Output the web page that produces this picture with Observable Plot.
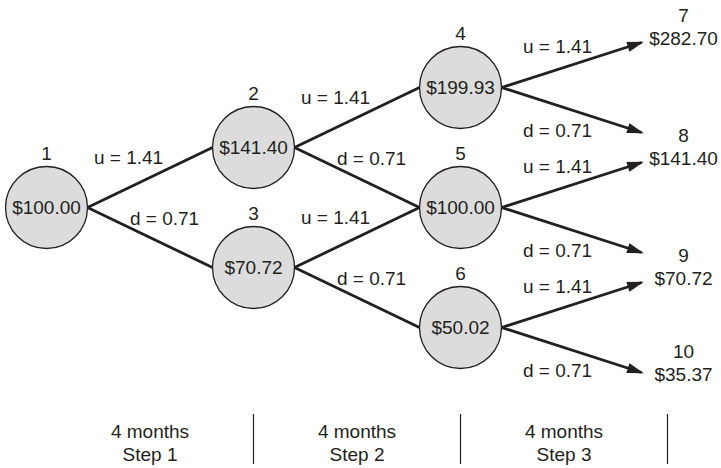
<!DOCTYPE html>
<html>
<head>
<meta charset="utf-8">
<script src="https://cdn.jsdelivr.net/npm/d3@7"></script>
<script src="https://cdn.jsdelivr.net/npm/@observablehq/plot@0.6"></script>
<style>
  html, body { margin: 0; padding: 0; background: #ffffff; }
  #chart svg { display: block; }
</style>
</head>
<body>
<div id="chart"></div>
<script>
// ---------------- data ----------------
const nodeIds    = [1, 2, 3, 4, 5, 6];
const nodeStep   = [0, 1, 1, 2, 2, 2];
const nodeLevel  = [0, 1, -1, 2, 0, -2];      // (#up moves − #down moves)
const nodePrice  = [100.00, 141.40, 70.72, 199.93, 100.00, 50.02];

const termIds    = [7, 8, 9, 10];
const termStep   = [3, 3, 3, 3];
const termLevel  = [3, 1, -1, -3];
const termPrice  = [282.70, 141.40, 70.72, 35.37];

const upFactor   = 1.41;
const downFactor = 0.71;

const periodMonths = [4, 4, 4];
const periodNames  = ["Step 1", "Step 2", "Step 3"];

// ---------------- layout ----------------
const W = 721, H = 468;
const X0 = 46, PX = 207;   // pixel of step 0, pixels per step
const Y0 = 207, PY = 60;   // pixel of level 0, pixels per level
const R = 41;              // node radius (px)
const ink = "#231f20";
const fmt = d3.format("$.2f");

const nodes = nodeIds.map((id, i) => ({id, step: nodeStep[i], level: nodeLevel[i], price: nodePrice[i]}));
const terms = termIds.map((id, i) => ({id, step: termStep[i], level: termLevel[i], price: termPrice[i],
  shift: id === 10 ? 24 / PY : 0}));
const all = nodes.concat(terms);
const find = (s, l) => all.find(n => n.step === s && n.level === l);

const innerEdges = [], termEdges = [];
for (const n of nodes) {
  for (const [kind, dl, f] of [["u", 1, upFactor], ["d", -1, downFactor]]) {
    const t = find(n.step + 1, n.level + dl);
    const e = {from: n, to: t, kind, factor: f};
    if (t.id > 6) termEdges.push(e); else innerEdges.push(e);
  }
}

const labelText = e => `${e.kind} = ${e.factor.toFixed(2)}`;

// custom filled arrowhead marker
function headMarker(color) {
  return d3.create("svg:marker")
    .attr("viewBox", "0 0 10 6")
    .attr("markerWidth", 6)
    .attr("markerHeight", 3.6)
    .attr("refX", 8.5)
    .attr("refY", 3)
    .attr("orient", "auto")
    .attr("overflow", "visible")
    .call(m => m.append("path").attr("d", "M0,0L10,3L0,6Z").attr("fill", color).attr("stroke", "none"))
    .node();
}

function build(marker) {
  return Plot.plot({
    width: W,
    height: H,
    margin: 0,
    x: {domain: [-X0 / PX, (W - X0) / PX], range: [0, W], axis: null},
    y: {domain: [-(H - Y0) / PY, Y0 / PY], range: [H, 0], axis: null},
    style: {fontFamily: "'Liberation Sans', Arial, Helvetica, sans-serif", fontSize: "19px", background: "#fff", color: ink},
    marks: [
      // lattice edges (from right extreme of one circle to left extreme of the next)
      Plot.link(innerEdges, {
        x1: e => e.from.step + R / PX, y1: e => e.from.level,
        x2: e => e.to.step - R / PX,   y2: e => e.to.level,
        stroke: ink, strokeWidth: 2.8
      }),
      // terminal arrows
      Plot.link(termEdges, {
        x1: e => e.from.step + R / PX, y1: e => e.from.level,
        x2: e => e.to.step - 26 / PX,
        y2: e => e.to.level + Math.sign(e.from.level - e.to.level) * 15 / PY,
        stroke: ink, strokeWidth: 2.8, markerEnd: marker
      }),
      // nodes
      Plot.dot(nodes, {x: "step", y: "level", r: R, fill: "#dcdcdd", stroke: ink, strokeWidth: 1.3}),
      Plot.text(nodes, {x: "step", y: "level", text: d => fmt(d.price), fill: ink, fontSize: 19}),
      Plot.text(nodes, {x: "step", y: "level", text: d => String(d.id), dy: -54, fill: ink, fontSize: 19}),
      // edge labels
      Plot.text(innerEdges.filter(e => e.kind === "u"), {x: e => e.from.step, y: e => e.from.level, text: labelText, dx: 82, dy: -50, fill: ink, fontSize: 19}),
      Plot.text(innerEdges.filter(e => e.kind === "d"), {x: e => e.from.step, y: e => e.from.level, text: labelText, dx: 118, dy: 11, fill: ink, fontSize: 19}),
      Plot.text(termEdges.filter(e => e.kind === "u"), {x: e => e.from.step, y: e => e.from.level, text: labelText, dx: 97, dy: -41, fill: ink, fontSize: 19}),
      Plot.text(termEdges.filter(e => e.kind === "d"), {x: e => e.from.step, y: e => e.from.level, text: labelText, dx: 97, dy: 43.5, fill: ink, fontSize: 19}),
      // terminal labels
      Plot.text(terms, {x: "step", y: d => d.level + d.shift, text: d => String(d.id), dx: 16, dy: -11.5, fill: ink, fontSize: 19}),
      Plot.text(terms, {x: "step", y: d => d.level + d.shift, text: d => fmt(d.price), dx: 16, dy: 11.5, fill: ink, fontSize: 19}),
      // bottom time axis
      Plot.ruleX(periodNames.map((_, i) => i + 1), {y1: -(414 - Y0) / PY, y2: -(464 - Y0) / PY, stroke: ink, strokeWidth: 1.2}),
      Plot.text(periodNames.map((name, i) => ({name, months: periodMonths[i], mid: i + 0.5})), {
        x: "mid", y: -(442 - Y0) / PY, text: d => `${d.months} months\n${d.name}`,
        lineHeight: 1.2, fill: ink, fontSize: 19
      })
    ]
  });
}

let chart;
try { chart = build(headMarker); } catch (err) { chart = build("arrow"); }
document.getElementById("chart").append(chart);
</script>
</body>
</html>
